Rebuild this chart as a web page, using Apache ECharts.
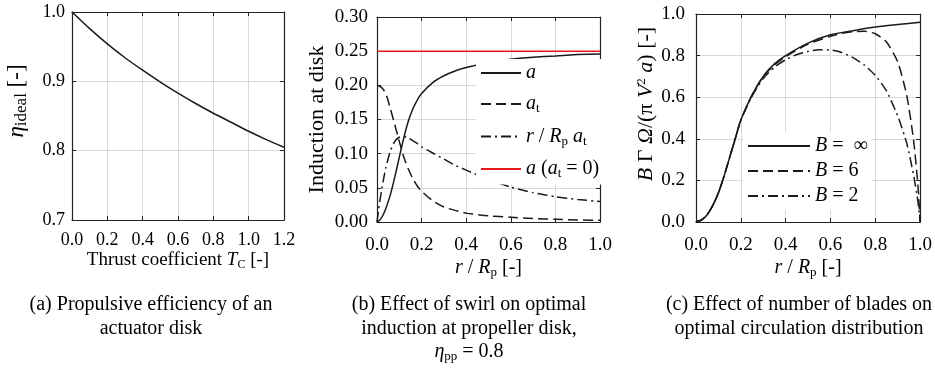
<!DOCTYPE html>
<html>
<head>
<meta charset="utf-8">
<script src="https://cdn.jsdelivr.net/npm/echarts@6/dist/echarts.min.js"></script>
<style>
  html, body { margin: 0; padding: 0; background: #fff; }
  #chart { width: 935px; height: 377px; }
</style>
</head>
<body>
<div id="chart"></div>
<script>
const SERIF = "'Liberation Serif', 'Times New Roman', serif";
const INK = "#1a1a1a";

// (a) ideal propulsive efficiency vs thrust coefficient
const thrustCoeff = [0, 0.1, 0.2, 0.3, 0.4, 0.5, 0.6, 0.7, 0.8, 0.9, 1.0, 1.1, 1.2];
const etaIdeal = [1.0, 0.976, 0.954, 0.934, 0.916, 0.899, 0.883, 0.868, 0.854, 0.841, 0.828, 0.816, 0.805];

// (b) induction at disk vs r/Rp
const radiusB = [0, 0.01, 0.02, 0.03, 0.04, 0.06, 0.08, 0.1, 0.12, 0.14, 0.16, 0.18, 0.2, 0.25, 0.3, 0.35, 0.4, 0.5, 0.6, 0.7, 0.8, 0.9, 1.0];
const axialInd = [0, 0.002, 0.006, 0.012, 0.02, 0.04, 0.066, 0.095, 0.123, 0.147, 0.165, 0.178, 0.188, 0.204, 0.214, 0.221, 0.226, 0.233, 0.238, 0.241, 0.243, 0.245, 0.246];
const tangInd = [0.2, 0.199, 0.197, 0.193, 0.188, 0.166, 0.142, 0.118, 0.095, 0.078, 0.064, 0.053, 0.045, 0.031, 0.022, 0.017, 0.013, 0.009, 0.007, 0.005, 0.004, 0.003, 0.0025];
const radialTang = [0, 0.025, 0.045, 0.064, 0.08, 0.104, 0.118, 0.124, 0.125, 0.123, 0.119, 0.115, 0.11, 0.101, 0.092, 0.083, 0.076, 0.062, 0.051, 0.043, 0.037, 0.033, 0.03];
const radiusNoSwirl = [0, 1];
const axialNoSwirl = [0.25, 0.25];

// (c) circulation distribution vs r/Rp
const radiusInf = [0, 0.025, 0.05, 0.075, 0.1, 0.125, 0.15, 0.175, 0.2, 0.25, 0.3, 0.35, 0.4, 0.5, 0.6, 0.7, 0.8, 0.9, 1.0];
const circInf = [0, 0.01, 0.035, 0.08, 0.14, 0.22, 0.31, 0.4, 0.49, 0.61, 0.7, 0.76, 0.8, 0.86, 0.9, 0.92, 0.937, 0.95, 0.96];
const radiusB6 = [0, 0.025, 0.05, 0.075, 0.1, 0.125, 0.15, 0.175, 0.2, 0.25, 0.3, 0.35, 0.4, 0.5, 0.6, 0.65, 0.7, 0.75, 0.8, 0.85, 0.9, 0.94, 0.97, 0.99, 1.0];
const circB6 = [0, 0.01, 0.035, 0.08, 0.14, 0.22, 0.31, 0.4, 0.49, 0.61, 0.7, 0.755, 0.795, 0.855, 0.893, 0.907, 0.915, 0.917, 0.905, 0.865, 0.77, 0.61, 0.4, 0.18, 0];
const radiusB2 = [0, 0.025, 0.05, 0.075, 0.1, 0.125, 0.15, 0.175, 0.2, 0.25, 0.3, 0.35, 0.4, 0.45, 0.5, 0.55, 0.6, 0.65, 0.7, 0.75, 0.8, 0.85, 0.9, 0.94, 0.97, 0.99, 1.0];
const circB2 = [0, 0.01, 0.035, 0.08, 0.14, 0.22, 0.31, 0.4, 0.49, 0.605, 0.69, 0.745, 0.78, 0.805, 0.82, 0.828, 0.827, 0.815, 0.79, 0.755, 0.705, 0.63, 0.51, 0.38, 0.23, 0.1, 0];

const zip = (xs, ys) => xs.map((x, i) => [x, ys[i]]);

const rich = (size, subScale) => ({
  i: { fontFamily: SERIF, fontStyle: "italic", fontSize: size, color: "#000" },
  n: { fontFamily: SERIF, fontSize: size, color: "#000" },
  sub: { fontFamily: SERIF, fontSize: Math.round(size * (subScale || 0.65)), color: "#000", padding: [10, 0, 0, 0] },
  sup: { fontFamily: SERIF, fontSize: Math.round(size * 0.6), color: "#000", padding: [0, 0, 10, 0] },
});

const legendLabels = {
  a: "{i|a}",
  at: "{i|a}{sub|t}",
  rat: "{i|r}{n| / }{i|R}{sub|p}{n| }{i|a}{sub|t}",
  a0: "{i|a}{n| (}{i|a}{sub|t}{n| = 0)}",
  Binf: "{i|B}{n| =  ∞}",
  B6: "{i|B}{n| = 6}",
  B2: "{i|B}{n| = 2}",
};

function mainX(grid, max, labelMargin, name, nameGap, size) {
  return {
    gridIndex: grid, type: "value", min: 0, max: max, interval: 0.2,
    axisLine: { show: true, onZero: false, lineStyle: { color: "#222", width: 1.2 } },
    axisTick: { show: true, inside: true, length: 4, lineStyle: { color: "#222" } },
    axisLabel: { color: "#000", fontFamily: SERIF, fontSize: size, margin: labelMargin, formatter: (v) => v.toFixed(1) },
    splitLine: { show: true, lineStyle: { color: "#d9d9d9", width: 1 } },
    name: name, nameLocation: "middle", nameGap: nameGap, nameMoveOverlap: false,
    nameTextStyle: { color: "#000", fontFamily: SERIF, fontSize: size, rich: rich(size + 1) },
  };
}

// nameShift pads the start of the rotated name so the visible text sits higher
function mainY(grid, min, max, interval, digits, labelMargin, name, nameGap, size, nameSize, nameShift, subScale) {
  return {
    gridIndex: grid, type: "value", min: min, max: max, interval: interval,
    axisLine: { show: true, onZero: false, lineStyle: { color: "#222", width: 1.2 } },
    axisTick: { show: true, inside: true, length: 4, lineStyle: { color: "#222" } },
    axisLabel: { color: "#000", fontFamily: SERIF, fontSize: size, margin: labelMargin, formatter: (v) => v.toFixed(digits) },
    splitLine: { show: true, lineStyle: { color: "#d9d9d9", width: 1 } },
    name: name, nameLocation: "middle", nameGap: nameGap,
    nameTextStyle: {
      color: "#000", fontFamily: SERIF, fontSize: nameSize,
      padding: [0, 0, 0, nameShift], rich: rich(nameSize, subScale),
    },
  };
}

function frame(grid, position, min, max, interval) {
  return {
    gridIndex: grid, type: "value", position: position, min: min, max: max, interval: interval,
    axisLine: { show: true, onZero: false, lineStyle: { color: "#222", width: 1.2 } },
    axisTick: { show: true, inside: true, length: 4, lineStyle: { color: "#222" } },
    axisLabel: { show: false },
    splitLine: { show: false },
  };
}

function curve(name, x, y, grid, dash, color) {
  return {
    name: name, type: "line", xAxisIndex: grid * 2, yAxisIndex: grid * 2,
    data: zip(x, y), symbol: "none", smooth: 0.2,
    lineStyle: { color: color || INK, width: 1.5, type: dash || "solid" },
    itemStyle: { color: color || INK },
  };
}

const DASH = [10, 5];
const DASHDOT = [10, 4, 2, 4];

function legendBox(left, top, gap, width, names) {
  return {
    orient: "vertical", left: left, top: top, padding: 4, itemGap: gap,
    itemWidth: width, itemHeight: 14, backgroundColor: "#fff",
    // hide the marker dot that ECharts puts on line-series legend icons
    itemStyle: { color: "rgba(0,0,0,0)", borderColor: "rgba(0,0,0,0)", borderWidth: 0 },
    data: names,
    formatter: (n) => legendLabels[n],
    textStyle: { color: "#000", fontFamily: SERIF, fontSize: 20, rich: rich(20) },
  };
}

const chart = echarts.init(document.getElementById("chart"));

chart.setOption({
  backgroundColor: "#fff",
  animation: false,
  grid: [
    { left: 72, top: 12, width: 212, height: 208 },
    { left: 377, top: 17, width: 223, height: 205 },
    { left: 696, top: 14, width: 226, height: 208 },
  ],
  xAxis: [
    mainX(0, 1.2, 11, "{n|Thrust coefficient }{i|T}{sub|C}{n| [-]}", 29, 18),
    frame(0, "top", 0, 1.2, 0.2),
    mainX(1, 1.0, 14, "{i|r}{n| / }{i|R}{sub|p}{n| [-]}", 34, 19),
    frame(1, "top", 0, 1.0, 0.2),
    mainX(2, 1.0, 14, "{i|r}{n| / }{i|R}{sub|p}{n| [-]}", 34, 19),
    frame(2, "top", 0, 1.0, 0.2),
  ],
  yAxis: [
    mainY(0, 0.7, 1.0, 0.1, 1, 7, "{i|η}{sub|ideal}{n| [-]}", 42, 18, 23, 30, 0.75),
    frame(0, "right", 0.7, 1.0, 0.1),
    mainY(1, 0, 0.3, 0.05, 2, 9, "{n|Induction at disk}", 49, 19, 22, 0),
    frame(1, "right", 0, 0.3, 0.05),
    mainY(2, 0, 1.0, 0.2, 1, 11, "{i|B}{n| Γ }{i|Ω}{n|/(π }{i|V}{sup|2}{n| }{i|a}{n|) [-]}", 38, 19, 22, 28),
    frame(2, "right", 0, 1.0, 0.2),
  ],
  legend: [
    legendBox(476, 59, 11, 40, ["a", "at", "rat", "a0"]),
    legendBox(743, 132, 5, 62, ["Binf", "B6", "B2"]),
  ],
  series: [
    curve("eta", thrustCoeff, etaIdeal, 0),
    curve("a0", radiusNoSwirl, axialNoSwirl, 1, "solid", "#e3171c"),
    curve("a", radiusB, axialInd, 1),
    curve("at", radiusB, tangInd, 1, DASH),
    curve("rat", radiusB, radialTang, 1, DASHDOT),
    curve("Binf", radiusInf, circInf, 2),
    curve("B6", radiusB6, circB6, 2, DASH),
    curve("B2", radiusB2, circB2, 2, DASHDOT),
  ],
  graphic: [
    { text: "(a) Propulsive efficiency of an\nactuator disk", x: 151 },
    { text: "(b) Effect of swirl on optimal\ninduction at propeller disk,\n{i|η}{sub|pp} = 0.8", x: 469 },
    { text: "(c) Effect of number of blades on\noptimal circulation distribution", x: 799 },
  ].map((c) => ({
    type: "text", x: c.x, y: 293,
    style: {
      text: c.text, fill: "#000", fontFamily: SERIF, fontSize: 20, lineHeight: 23.5,
      textAlign: "center", textVerticalAlign: "top", rich: rich(20),
    },
  })),
});
</script>
</body>
</html>
